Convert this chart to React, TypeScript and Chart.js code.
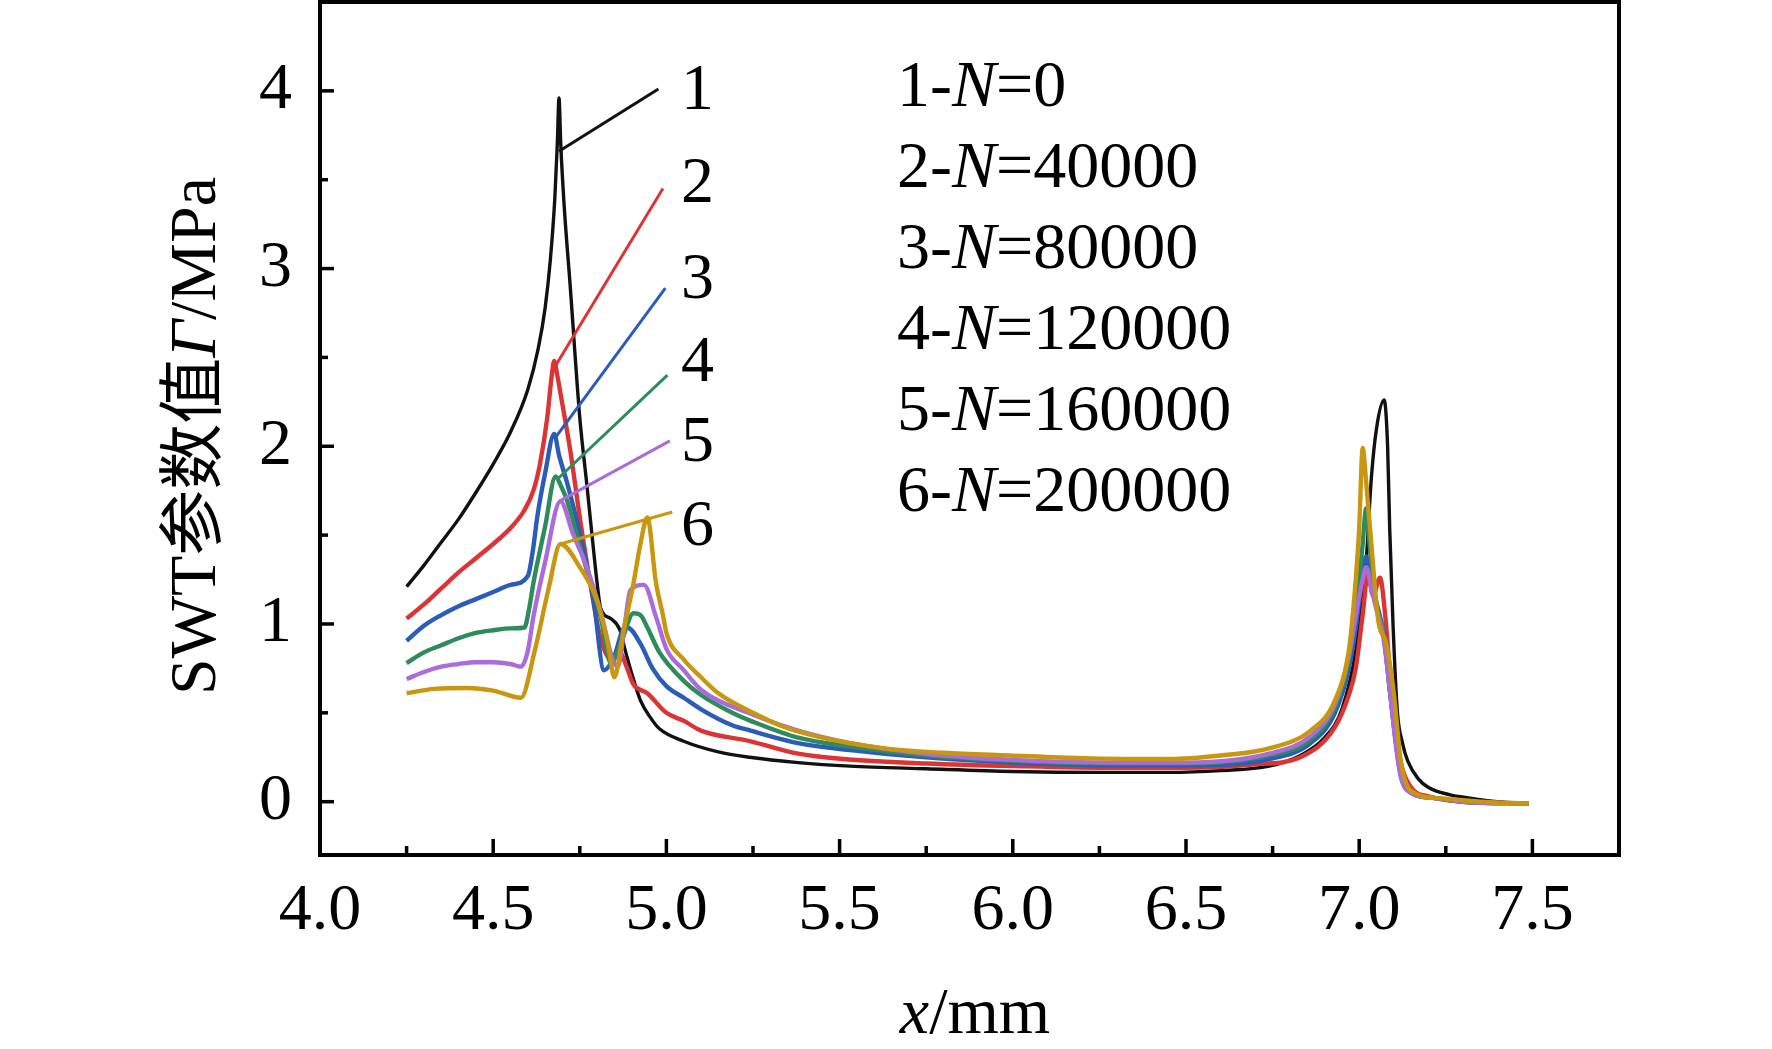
import React, { useEffect, useRef } from 'react';
import { Chart, registerables } from 'chart.js';

Chart.register(...registerables);

// axis ticks
const xTicks = [4.0, 4.5, 5.0, 5.5, 6.0, 6.5, 7.0, 7.5];
const xMinorTicks = [4.25, 4.75, 5.25, 5.75, 6.25, 6.75, 7.25];
const yTicks = [0, 1, 2, 3, 4];
const yMinorTicks = [0.5, 1.5, 2.5, 3.5];

// cycle counts for the legend text
const curveIds = ['1', '2', '3', '4', '5', '6'];
const cycleCounts = ['0', '40000', '80000', '120000', '160000', '200000'];
const colors = ['#111111', '#dc3434', '#2a5cb8', '#2e8b5c', '#aa6cda', '#c8960f'];

// SWT curves, [x mm, value MPa]
const curveN0: [number, number][] = [
    [4.25, 1.21], [4.30, 1.33], [4.35, 1.46], [4.40, 1.59], [4.45, 1.74], [4.50, 1.90], [4.55, 2.08],
    [4.60, 2.32], [4.63, 2.55], [4.65, 2.78], [4.665, 3.05], [4.678, 3.40], [4.685, 3.70], [4.69, 3.96],
    [4.695, 3.70], [4.705, 3.35], [4.722, 2.91], [4.75, 2.16], [4.77, 1.79], [4.79, 1.41], [4.80, 1.23],
    [4.81, 1.09], [4.84, 1.03], [4.865, 0.97], [4.88, 0.86], [4.90, 0.72], [4.925, 0.57], [4.955, 0.47],
    [4.98, 0.41], [5.05, 0.34], [5.15, 0.28], [5.24, 0.25], [5.38, 0.22], [5.53, 0.20], [5.75, 0.185],
    [6.0, 0.17], [6.25, 0.165], [6.45, 0.165], [6.6, 0.175], [6.74, 0.20], [6.83, 0.26], [6.90, 0.36],
    [6.95, 0.52], [6.99, 0.85], [7.02, 1.35], [7.035, 1.82], [7.05, 2.10], [7.072, 2.26], [7.082, 2.0],
    [7.088, 1.54], [7.098, 0.98], [7.11, 0.51], [7.125, 0.33], [7.14, 0.23], [7.17, 0.13], [7.2, 0.08],
    [7.26, 0.04], [7.32, 0.02], [7.4, 0.0], [7.49, -0.01],
];
const curveN40k: [number, number][] = [
    [4.25, 1.03], [4.30, 1.11], [4.35, 1.20], [4.40, 1.29], [4.45, 1.37], [4.50, 1.45], [4.55, 1.54],
    [4.59, 1.64], [4.616, 1.75], [4.635, 1.90], [4.656, 2.16], [4.668, 2.38], [4.676, 2.48], [4.685, 2.40],
    [4.694, 2.30], [4.723, 1.97], [4.75, 1.60], [4.78, 1.23], [4.81, 0.92], [4.84, 0.80], [4.865, 0.84],
    [4.885, 0.76], [4.905, 0.66], [4.945, 0.61], [5.0, 0.50], [5.05, 0.455], [5.1, 0.40], [5.243, 0.34],
    [5.38, 0.27], [5.51, 0.24], [5.75, 0.215], [6.0, 0.20], [6.3, 0.19], [6.5, 0.19], [6.7, 0.21],
    [6.83, 0.25], [6.93, 0.42], [6.97, 0.60], [6.99, 0.75], [7.01, 1.05], [7.025, 1.28], [7.04, 1.16],
    [7.06, 1.26], [7.075, 1.05], [7.09, 0.70], [7.105, 0.40], [7.12, 0.22], [7.15, 0.08], [7.2, 0.03],
    [7.3, 0.0], [7.49, -0.01],
];
const curveN80k: [number, number][] = [
    [4.25, 0.905], [4.30, 0.99], [4.35, 1.05], [4.40, 1.10], [4.45, 1.14], [4.50, 1.18], [4.55, 1.22],
    [4.60, 1.27], [4.615, 1.42], [4.627, 1.60], [4.65, 1.85], [4.676, 2.07], [4.69, 1.95], [4.714, 1.79],
    [4.75, 1.51], [4.79, 1.13], [4.82, 0.74], [4.85, 0.82], [4.875, 0.97], [4.887, 0.98], [4.925, 0.89],
    [4.96, 0.75], [5.0, 0.65], [5.05, 0.585], [5.1, 0.52], [5.19, 0.43], [5.243, 0.40], [5.38, 0.33],
    [5.53, 0.29], [5.75, 0.25], [6.0, 0.22], [6.3, 0.205], [6.5, 0.205], [6.74, 0.24], [6.86, 0.33],
    [6.93, 0.50], [6.97, 0.75], [6.995, 1.05], [7.01, 1.30], [7.02, 1.38], [7.035, 1.25], [7.05, 1.12],
    [7.07, 0.95], [7.09, 0.60], [7.105, 0.35], [7.12, 0.15], [7.15, 0.05], [7.22, 0.02], [7.3, 0.0],
    [7.49, -0.01],
];
const curveN120k: [number, number][] = [
    [4.25, 0.78], [4.30, 0.84], [4.35, 0.88], [4.40, 0.92], [4.45, 0.95], [4.50, 0.965], [4.55, 0.975],
    [4.59, 0.98], [4.605, 1.10], [4.616, 1.23], [4.65, 1.55], [4.68, 1.83], [4.695, 1.78], [4.714, 1.69],
    [4.76, 1.37], [4.81, 1.04], [4.84, 0.78], [4.87, 0.90], [4.905, 1.06], [4.925, 1.05], [4.945, 0.98],
    [4.98, 0.84], [5.05, 0.68], [5.1, 0.60], [5.19, 0.50], [5.243, 0.455], [5.38, 0.36], [5.53, 0.31],
    [5.75, 0.26], [6.0, 0.23], [6.3, 0.215], [6.5, 0.215], [6.74, 0.26], [6.86, 0.35], [6.93, 0.53],
    [6.97, 0.80], [6.995, 1.15], [7.01, 1.45], [7.02, 1.65], [7.03, 1.45], [7.045, 1.15], [7.07, 0.95],
    [7.09, 0.60], [7.105, 0.35], [7.12, 0.15], [7.15, 0.05], [7.22, 0.02], [7.3, 0.0], [7.49, -0.01],
];
const curveN160k: [number, number][] = [
    [4.25, 0.69], [4.30, 0.73], [4.35, 0.76], [4.40, 0.775], [4.45, 0.785], [4.50, 0.785], [4.55, 0.775],
    [4.58, 0.76], [4.60, 0.85], [4.616, 1.04], [4.65, 1.35], [4.694, 1.69], [4.73, 1.51], [4.77, 1.32],
    [4.81, 1.07], [4.845, 0.80], [4.86, 0.76], [4.88, 1.0], [4.896, 1.19], [4.935, 1.22], [4.97, 1.04],
    [5.0, 0.86], [5.05, 0.74], [5.1, 0.63], [5.243, 0.495], [5.38, 0.40], [5.53, 0.33], [5.75, 0.27],
    [6.0, 0.235], [6.3, 0.22], [6.5, 0.22], [6.74, 0.27], [6.86, 0.37], [6.93, 0.55], [6.97, 0.82],
    [6.995, 1.10], [7.01, 1.25], [7.02, 1.32], [7.035, 1.20], [7.05, 1.08], [7.07, 0.92], [7.09, 0.60],
    [7.105, 0.33], [7.12, 0.14], [7.15, 0.05], [7.22, 0.02], [7.3, 0.0], [7.49, -0.01],
];
const curveN200k: [number, number][] = [
    [4.25, 0.61], [4.33, 0.635], [4.425, 0.64], [4.5, 0.625], [4.58, 0.585], [4.62, 0.85], [4.66, 1.20],
    [4.694, 1.45], [4.75, 1.32], [4.80, 1.13], [4.83, 0.90], [4.85, 0.70], [4.875, 0.95], [4.905, 1.23],
    [4.925, 1.45], [4.945, 1.60], [4.97, 1.23], [4.99, 1.05], [5.0, 0.95], [5.05, 0.80], [5.1, 0.70],
    [5.15, 0.61], [5.25, 0.50], [5.34, 0.42], [5.45, 0.36], [5.63, 0.30], [5.8, 0.275], [5.99, 0.26],
    [6.2, 0.245], [6.45, 0.24], [6.6, 0.26], [6.74, 0.30], [6.86, 0.40], [6.93, 0.57], [6.97, 0.85],
    [6.985, 1.13], [7.0, 1.54], [7.01, 1.99], [7.02, 1.80], [7.035, 1.45], [7.055, 1.02], [7.078, 0.89],
    [7.1, 0.61], [7.12, 0.23], [7.15, 0.06], [7.23, 0.02], [7.35, 0.0], [7.49, -0.01],
];
const curves = [curveN0, curveN40k, curveN80k, curveN120k, curveN160k, curveN200k];

// leader lines from each peak out to its number
const leaders: [number, number][][] = [
    [[4.69, 3.66], [4.977, 4.01]],
    [[4.676, 2.44], [4.99, 3.45]],
    [[4.68, 2.05], [4.997, 2.89]],
    [[4.688, 1.82], [5.003, 2.40]],
    [[4.69, 1.69], [5.01, 2.03]],
    [[4.694, 1.45], [5.017, 1.63]],
];
// where the curve numbers sit (data units)
const labelX = 5.09;
const labelY = [4.02, 3.50, 2.96, 2.49, 2.04, 1.57];

const FONT = "'Liberation Serif', 'Times New Roman', 'Noto Sans CJK SC', serif";
const FONT_SIZE = 66;

type Part = { text: string; italic?: boolean };

function drawParts(ctx: CanvasRenderingContext2D, parts: Part[], x: number, y: number, center: boolean) {
    const widths = parts.map(p => {
        ctx.font = `${p.italic ? 'italic ' : ''}${FONT_SIZE}px ${FONT}`;
        return ctx.measureText(p.text).width;
    });
    let cx = center ? x - widths.reduce((a, b) => a + b, 0) / 2 : x;
    parts.forEach((p, i) => {
        ctx.font = `${p.italic ? 'italic ' : ''}${FONT_SIZE}px ${FONT}`;
        ctx.fillText(p.text, cx, y);
        cx += widths[i];
    });
}

const decorations = {
    id: 'decorations',
    afterDraw(chart: any) {
        const { ctx, chartArea: a, scales } = chart;
        const xs = scales.x;
        const ys = scales.y;
        ctx.save();
        ctx.strokeStyle = '#000';
        ctx.lineWidth = 4;
        ctx.strokeRect(a.left, a.top, a.right - a.left, a.bottom - a.top);

        // inward ticks
        ctx.lineWidth = 3.5;
        const tick = (x1: number, y1: number, x2: number, y2: number) => {
            ctx.beginPath();
            ctx.moveTo(x1, y1);
            ctx.lineTo(x2, y2);
            ctx.stroke();
        };
        xTicks.forEach(v => { const px = xs.getPixelForValue(v); tick(px, a.bottom, px, a.bottom - 16); });
        xMinorTicks.forEach(v => { const px = xs.getPixelForValue(v); tick(px, a.bottom, px, a.bottom - 9); });
        yTicks.forEach(v => { const py = ys.getPixelForValue(v); tick(a.left, py, a.left + 14, py); });
        yMinorTicks.forEach(v => { const py = ys.getPixelForValue(v); tick(a.left, py, a.left + 8, py); });

        ctx.fillStyle = '#000';
        ctx.textAlign = 'left';
        ctx.textBaseline = 'alphabetic';

        // curve numbers at the end of the leader lines
        labelY.forEach((v, i) => {
            const px = xs.getPixelForValue(labelX);
            const py = ys.getPixelForValue(v);
            drawParts(ctx, [{ text: curveIds[i] }], px, py + 22, true);
        });

        // legend text
        cycleCounts.forEach((n, i) => {
            drawParts(ctx, [
                { text: `${curveIds[i]}-` },
                { text: 'N', italic: true },
                { text: `=${n}` },
            ], 897, 106 + i * 81, false);
        });

        // axis titles
        drawParts(ctx, [{ text: 'x', italic: true }, { text: '/mm' }], 975, 1033, true);
        ctx.translate(215, 436);
        ctx.rotate(-Math.PI / 2);
        drawParts(ctx, [
            { text: 'SWT参数值' },
            { text: 'Γ', italic: true },
            { text: '/MPa' },
        ], 0, 0, true);
        ctx.restore();
    },
};

function SwtChart() {
    const chartRef = useRef<HTMLCanvasElement | null>(null);
    const chartInstance = useRef<Chart | null>(null);

    useEffect(() => {
        if (!chartRef.current) return;
        if (chartInstance.current) chartInstance.current.destroy();

        const curveSets = curves.map((pts, i) => ({
            label: `${curveIds[i]}-N=${cycleCounts[i]}`,
            data: pts.map(([x, y]) => ({ x, y })),
            borderColor: colors[i],
            borderWidth: i === 0 ? 3.4 : 4.4,
            pointRadius: 0,
            cubicInterpolationMode: 'monotone' as const,
            order: 10 - i,
        }));
        const leaderSets = leaders.map((seg, i) => ({
            label: `leader ${curveIds[i]}`,
            data: seg.map(([x, y]) => ({ x, y })),
            borderColor: colors[i],
            borderWidth: 3,
            pointRadius: 0,
            order: 0,
        }));

        chartInstance.current = new Chart(chartRef.current, {
            type: 'line',
            data: { datasets: [...curveSets, ...leaderSets] },
            options: {
                animation: false,
                responsive: true,
                maintainAspectRatio: false,
                layout: { padding: { left: 0, right: 153, top: 2, bottom: 0 } },
                plugins: {
                    legend: { display: false },
                    tooltip: { enabled: false },
                },
                scales: {
                    x: {
                        type: 'linear',
                        min: 4.0,
                        max: 7.75,
                        grid: { display: false },
                        border: { display: false },
                        afterFit: (s: any) => { s.height = 194; s.paddingLeft = 0; s.paddingRight = 0; },
                        afterBuildTicks: (s: any) => { s.ticks = xTicks.map(value => ({ value })); },
                        ticks: {
                            padding: 9,
                            color: '#000',
                            autoSkip: false,
                            font: { family: FONT, size: FONT_SIZE },
                            maxRotation: 0,
                            callback: (v: any) => Number(v).toFixed(1),
                        },
                    },
                    y: {
                        type: 'linear',
                        min: -0.3,
                        max: 4.5,
                        grid: { display: false },
                        border: { display: false },
                        afterFit: (s: any) => { s.width = 320; s.paddingTop = 0; s.paddingBottom = 0; },
                        afterBuildTicks: (s: any) => { s.ticks = yTicks.map(value => ({ value })); },
                        ticks: {
                            padding: 20,
                            color: '#000',
                            autoSkip: false,
                            font: { family: FONT, size: FONT_SIZE },
                            callback: (v: any) => String(v),
                        },
                    },
                },
            },
            plugins: [decorations],
        });

        return () => {
            if (chartInstance.current) {
                chartInstance.current.destroy();
                chartInstance.current = null;
            }
        };
    }, []);

    return (
        <div style={{ position: 'absolute', left: 0, top: 0, width: 1772, height: 1049, background: '#fff' }}>
            <canvas ref={chartRef} />
        </div>
    );
}

export default function App() {
    return <SwtChart />;
}
